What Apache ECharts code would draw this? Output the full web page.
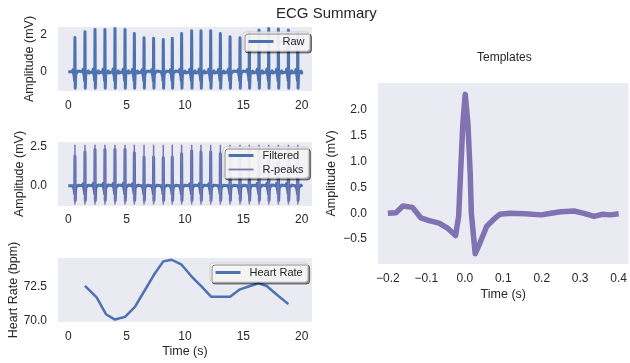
<!DOCTYPE html>
<html>
<head>
<meta charset="utf-8">
<script src="https://cdn.jsdelivr.net/npm/echarts@6/dist/echarts.min.js"></script>
<style>
  html, body { margin: 0; padding: 0; background: #fff; }
  #chart { width: 630px; height: 363px; }
</style>
</head>
<body>
<div id="chart"></div>
<script>
// R-peak times (s) and peak heights
const beatTimes = [0.57, 1.43, 2.29, 3.14, 4.0, 4.86, 5.66, 6.49, 7.31, 8.14, 8.91, 9.71,
    10.57, 11.37, 12.2, 13.03, 13.86, 14.71, 15.51, 16.34, 17.17, 18.0, 18.86, 19.66];
const rawPeaks = [1.87, 2.18, 2.31, 2.31, 2.36, 2.31, 2.09, 1.85, 1.82, 1.76, 1.82, 2.09,
    2.24, 2.24, 2.24, 2.09, 1.91, 1.85, 2.1, 2.27, 2.36, 2.33, 2.27, 2.1];
const filteredPeaks = [1.9, 2.18, 2.33, 2.33, 2.33, 2.33, 2.12, 1.86, 1.86, 1.82, 1.86, 2.07,
    2.24, 2.18, 2.18, 2.07, 1.9, 1.86, 2.1, 2.3, 2.36, 2.33, 2.3, 2.1];
const rawTrough = -0.9;
const filteredTrough = -0.95;
const rpeakLow = -1.2;
const rpeakHigh = 2.65;

// heart beat template (right panel)
const tmplTime = [-0.2, -0.179, -0.161, -0.136, -0.114, -0.093, -0.067, -0.046, -0.024, -0.016,
    -0.011, -0.005, 0.001, 0.008, 0.014, 0.017, 0.027, 0.04, 0.057, 0.079, 0.091, 0.117,
    0.156, 0.199, 0.224, 0.25, 0.284, 0.31, 0.336, 0.357, 0.379, 0.4];
const tmplAmp = [0.0, 0.01, 0.14, 0.115, -0.09, -0.14, -0.19, -0.28, -0.43, -0.06,
    0.78, 1.74, 2.3, 1.74, 0.78, 0.0, -0.78, -0.56, -0.25, -0.09, -0.02, 0.0,
    -0.01, -0.03, 0.0, 0.03, 0.045, 0.0, -0.06, -0.02, -0.03, -0.01];
const tmplPeak = 2.3;
const tmplTrough = -0.78;

// heart rate
const hrTime = [1.43, 2.43, 3.23, 4.0, 4.86, 5.71, 6.57, 7.34, 8.14, 8.86, 9.71, 10.57,
    11.43, 12.23, 13.0, 13.86, 14.71, 15.57, 16.29, 17.0, 17.9, 18.86];
const hrValue = [72.55, 71.7, 70.45, 70.05, 70.25, 71.0, 72.25, 73.38, 74.38, 74.5, 74.13, 73.25,
    72.5, 71.75, 71.75, 71.75, 72.3, 72.55, 72.75, 72.55, 71.88, 71.2];

const timeTicks = [0, 5, 10, 15, 20];
const tmplTicksX = [-0.2, -0.1, 0, 0.1, 0.2, 0.3, 0.4];
const tmplTicksY = [-0.5, 0, 0.5, 1, 1.5, 2];

const BLUE = "#4C72B0";
const PURPLE = "#8172B2";
const TEXT = "#262626";
const FONT = "Liberation Sans";

// place the template at each beat, scaled to that beat's peak and the trough depth
function buildSignal(peaks, trough) {
    const pts = [[0, 0]];
    beatTimes.forEach((bt, i) => {
        tmplTime.forEach((t, j) => {
            const x = bt + t;
            const a = tmplAmp[j];
            const y = a >= 0 ? a * peaks[i] / tmplPeak : a * trough / tmplTrough;
            if (x >= 0 && x <= 20) pts.push([x, y]);
        });
    });
    pts.push([20, 0]);
    return pts;
}

const rpeakLines = [];
beatTimes.forEach((t) => {
    rpeakLines.push([t, rpeakLow], [t, rpeakHigh], [t, "-"]);
});

const minus = (s) => s.replace("-", "\u2212");

function xAxisTime(gridIndex, margin, name) {
    return {
        type: "value",
        gridIndex: gridIndex,
        min: -0.88,
        max: 20.88,
        axisLine: { show: false },
        axisTick: { show: false },
        splitLine: { show: false },
        axisLabel: {
            customValues: timeTicks,
            margin: margin,
            color: TEXT,
            fontFamily: FONT,
            fontSize: 12,
        },
        name: name,
        nameLocation: "middle",
        nameGap: 23,
        nameTextStyle: { color: TEXT, fontFamily: FONT, fontSize: 12.5 },
    };
}

function yAxis(gridIndex, min, max, ticks, digits, name, gap) {
    return {
        type: "value",
        gridIndex: gridIndex,
        min: min,
        max: max,
        axisLine: { show: false },
        axisTick: { show: false },
        splitLine: { show: false },
        axisLabel: {
            customValues: ticks,
            margin: 11,
            color: TEXT,
            fontFamily: FONT,
            fontSize: 12,
            formatter: (v) => minus(v.toFixed(digits)),
        },
        name: name,
        nameLocation: "middle",
        nameGap: gap,
        nameTextStyle: { color: TEXT, fontFamily: FONT, fontSize: 12.5 },
    };
}

const legendBase = {
    orient: "vertical",
    itemWidth: 25,
    itemHeight: 6,
    itemGap: 3,
    padding: [4, 5, 4, 4],
    backgroundColor: "rgba(255,255,255,0.9)",
    borderColor: "#cccccc",
    borderWidth: 1,
    borderRadius: 3,
    shadowColor: "rgba(0,0,0,0.45)",
    shadowBlur: 0,
    shadowOffsetX: 2,
    shadowOffsetY: 2,
    itemStyle: { opacity: 0 },
    lineStyle: { width: 3 },
    textStyle: { color: TEXT, fontFamily: FONT, fontSize: 11, padding: [0, 0, 0, 4] },
    selectedMode: false,
};

const gridBase = { show: true, backgroundColor: "#EAEAF2", borderWidth: 0 };

function lineSeries(name, axis, data, color, width, z) {
    return {
        name: name,
        type: "line",
        xAxisIndex: axis,
        yAxisIndex: axis,
        data: data,
        symbol: "none",
        showSymbol: false,
        connectNulls: false,
        color: color,
        lineStyle: { width: width, color: color, join: "round" },
        z: z || 2,
    };
}

const chart = echarts.init(document.getElementById("chart"), null, { renderer: "canvas" });
chart.setOption({
    animation: false,
    title: [
        {
            text: "ECG Summary",
            left: 276,
            top: 6,
            padding: 0,
            textStyle: { color: TEXT, fontFamily: FONT, fontSize: 15, fontWeight: "normal" },
        },
        {
            text: "Templates",
            left: 477,
            top: 52,
            padding: 0,
            textStyle: { color: TEXT, fontFamily: FONT, fontSize: 12, fontWeight: "normal" },
        },
    ],
    grid: [
        Object.assign({ left: 58, top: 27, width: 254, height: 64 }, gridBase),
        Object.assign({ left: 58, top: 142, width: 254, height: 64 }, gridBase),
        Object.assign({ left: 58, top: 258, width: 254, height: 64 }, gridBase),
        Object.assign({ left: 378, top: 83, width: 254, height: 181 }, gridBase),
    ],
    xAxis: [
        xAxisTime(0, 9, ""),
        xAxisTime(1, 8, ""),
        xAxisTime(2, 9, "Time (s)"),
        {
            type: "value",
            gridIndex: 3,
            min: -0.2257,
            max: 0.4257,
            axisLine: { show: false },
            axisTick: { show: false },
            splitLine: { show: false },
            axisLabel: {
                customValues: tmplTicksX,
                margin: 9,
                color: TEXT,
                fontFamily: FONT,
                fontSize: 12,
                formatter: (v) => minus(v.toFixed(1)),
            },
            name: "Time (s)",
            nameLocation: "middle",
            nameGap: 24,
            nameTextStyle: { color: TEXT, fontFamily: FONT, fontSize: 12.5 },
        },
    ],
    yAxis: [
        yAxis(0, -1.05, 2.44, [0, 2], 0, "Amplitude (mV)", 22),
        yAxis(1, -1.3, 2.82, [0, 2.5], 1, "Amplitude (mV)", 29),
        yAxis(2, 69.87, 74.63, [70, 72.5], 1, "Heart Rate (bpm)", 38),
        yAxis(3, -0.98, 2.52, tmplTicksY, 1, "Amplitude (mV)", 40),
    ],
    legend: [
        Object.assign({}, legendBase, { data: ["Raw"], left: 243, top: 32 }),
        Object.assign({}, legendBase, {
            data: [
                { name: "Filtered" },
                { name: "R-peaks", lineStyle: { width: 1.8, color: PURPLE } },
            ],
            left: 223,
            top: 147,
            padding: [3, 5, 3, 4],
        }),
        Object.assign({}, legendBase, { data: ["Heart Rate"], left: 210, top: 263 }),
    ],
    series: [
        lineSeries("Raw", 0, buildSignal(rawPeaks, rawTrough), BLUE, 3),
        lineSeries("Filtered", 1, buildSignal(filteredPeaks, filteredTrough), BLUE, 3),
        lineSeries("R-peaks", 1, rpeakLines, PURPLE, 1.5, 3),
        lineSeries("Heart Rate", 2, hrTime.map((t, i) => [t, hrValue[i]]), BLUE, 2.5),
        lineSeries("Templates", 3, tmplTime.map((t, i) => [t, tmplAmp[i]]), PURPLE, 5.5),
    ],
});
</script>
</body>
</html>
